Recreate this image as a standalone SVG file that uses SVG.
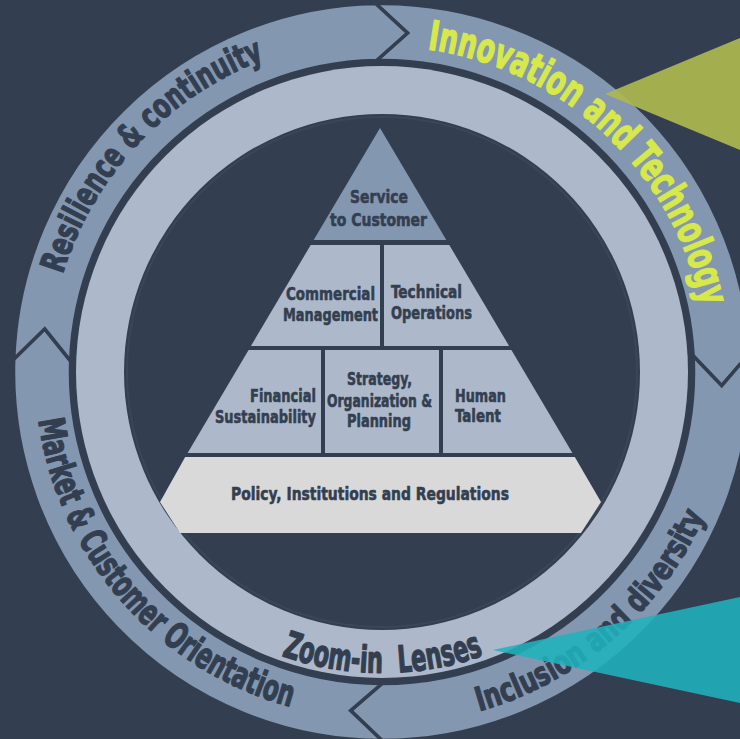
<svg xmlns="http://www.w3.org/2000/svg" width="740" height="739" viewBox="0 0 740 739">
<defs>
<style>
.bg{fill:#333F50}
.seg{fill:#8497B0;stroke:#333F50;stroke-width:3.5;stroke-linejoin:miter}
.cell{fill:#ADB9CA}
.ring{font-family:"Liberation Sans Narrow","DejaVu Sans Condensed","Roboto Condensed","Liberation Sans",sans-serif;font-weight:bold;fill:#333F50;stroke:#333F50;stroke-width:1.3;stroke-linejoin:round}
.lbl{font-family:"Liberation Sans Narrow","DejaVu Sans Condensed","Liberation Sans",sans-serif;font-weight:bold;font-size:18.5px;fill:#333F50;stroke:#333F50;stroke-width:0.6;stroke-linejoin:round}
</style>
<path id="pRes" d="M 62.6 274.3 A 334 334 0 0 1 324.0 43.1"/>
<path id="pInn" d="M 427.4 49.2 A 326 326 0 0 1 707.8 360.6"/>
<path id="pInc" d="M 479.3 711.3 A 353 353 0 0 0 723.0 463.4"/>
<path id="pMar" d="M 38.4 420.3 A 347 347 0 0 0 351.8 717.7"/>
<path id="pZoom" d="M 281.5 655.7 A 302 302 0 0 0 532.5 632.7"/>
</defs>
<rect class="bg" x="0" y="0" width="740" height="739"/>

<g id="segment-innovation">
<path class="seg" d="M 375.57 3.56 A 368.5 368.5 0 0 1 750.0 352.71 L 721.73 385.64 L 693.07 355.70 A 311.5 311.5 0 0 0 376.56 60.55 L 407.49 32.96 Z"/>
</g>
<g id="segment-inclusion">
<path class="seg" d="M 750.0 352.71 A 368.5 368.5 0 0 1 382 740.5 L 350.59 710.55 L 382 683.5 A 311.5 311.5 0 0 0 693.07 355.70 L 721.73 385.64 Z"/>
</g>
<g id="segment-market">
<path class="seg" d="M 382 740.5 A 368.5 368.5 0 0 1 13.72 359.14 L 44.76 328.80 L 70.69 361.13 A 311.5 311.5 0 0 0 382 683.5 L 350.59 710.55 Z"/>
</g>
<g id="segment-resilience">
<path class="seg" d="M 13.72 359.14 A 368.5 368.5 0 0 1 375.57 3.56 L 407.49 32.96 L 376.56 60.55 A 311.5 311.5 0 0 0 70.69 361.13 L 44.76 328.80 Z"/>
</g>

<g id="lens-ring">
<circle cx="382" cy="372" r="306" fill="#ADB9CA"/>
<circle cx="382" cy="372" r="258" fill="#333F50"/>
<circle cx="382" cy="372" r="255" fill="none" stroke="#3A4659" stroke-width="2"/>
</g>

<g id="ring-labels">
<text class="ring" font-size="34"><textPath href="#pRes" textLength="305" lengthAdjust="spacingAndGlyphs">Resilience &amp; continuity</textPath></text>
<text class="ring" font-size="41" style="fill:#D7E84B;stroke:#D7E84B"><textPath href="#pInn" textLength="400" lengthAdjust="spacingAndGlyphs">Innovation and Technology</textPath></text>
<text class="ring" font-size="33"><textPath href="#pInc" textLength="308" lengthAdjust="spacingAndGlyphs">Inclusion and diversity</textPath></text>
<text class="ring" font-size="36"><textPath href="#pMar" textLength="404" lengthAdjust="spacingAndGlyphs">Market &amp; Customer Orientation</textPath></text>
<text class="ring" font-size="37" xml:space="preserve"><textPath href="#pZoom" textLength="206" lengthAdjust="spacingAndGlyphs">Zoom-in  Lenses</textPath></text>
</g>

<g id="service-to-customer">
<polygon points="380,128 446.3,240 313.7,240" fill="#8497B0"/>
<text class="lbl" x="379" y="203" text-anchor="middle" textLength="58" lengthAdjust="spacingAndGlyphs">Service</text>
<text class="lbl" x="378.5" y="226" text-anchor="middle" textLength="97" lengthAdjust="spacingAndGlyphs">to Customer</text>
</g>
<g id="commercial-management">
<polygon class="cell" points="310.7,245 380,245 380,346 250.9,346"/>
<text class="lbl" x="330.5" y="300" text-anchor="middle" textLength="89" lengthAdjust="spacingAndGlyphs">Commercial</text>
<text class="lbl" x="330.5" y="321" text-anchor="middle" textLength="95" lengthAdjust="spacingAndGlyphs">Management</text>
</g>
<g id="technical-operations">
<polygon class="cell" points="384,245 449.3,245 509.1,346 384,346"/>
<text class="lbl" x="391" y="298" textLength="71" lengthAdjust="spacingAndGlyphs">Technical</text>
<text class="lbl" x="391" y="319" textLength="81" lengthAdjust="spacingAndGlyphs">Operations</text>
</g>
<g id="financial-sustainability">
<polygon class="cell" points="248.6,350 321,350 321,453 187.6,453"/>
<text class="lbl" x="316" y="402" text-anchor="end" textLength="66" lengthAdjust="spacingAndGlyphs">Financial</text>
<text class="lbl" x="316" y="423" text-anchor="end" textLength="101" lengthAdjust="spacingAndGlyphs">Sustainability</text>
</g>
<g id="strategy-organization-planning">
<polygon class="cell" points="325,350 439,350 439,453 325,453"/>
<text class="lbl" x="379.5" y="385" text-anchor="middle" textLength="65" lengthAdjust="spacingAndGlyphs">Strategy,</text>
<text class="lbl" x="379.5" y="407" text-anchor="middle" textLength="105" lengthAdjust="spacingAndGlyphs">Organization &amp;</text>
<text class="lbl" x="379" y="427" text-anchor="middle" textLength="64" lengthAdjust="spacingAndGlyphs">Planning</text>
</g>
<g id="human-talent">
<polygon class="cell" points="443,350 511.4,350 572.4,453 443,453"/>
<text class="lbl" x="455" y="402" textLength="51" lengthAdjust="spacingAndGlyphs">Human</text>
<text class="lbl" x="455" y="422" textLength="46" lengthAdjust="spacingAndGlyphs">Talent</text>
</g>
<g id="policy-institutions-regulations">
<polygon points="185.2,457 574.8,457 601,502 581,533 180,533 160,502" fill="#D9D9D9"/>
<text class="lbl" x="370" y="500" text-anchor="middle" textLength="278" lengthAdjust="spacingAndGlyphs">Policy, Institutions and Regulations</text>
</g>

<g id="callouts">
<polygon id="callout-innovation" points="605,94 740,38 740,150" fill="#ADB94F" fill-opacity="0.92"/>
<polygon id="callout-zoom" points="493,650 740,597 740,703" fill="#1FB3BC" fill-opacity="0.88"/>
</g>
</svg>
